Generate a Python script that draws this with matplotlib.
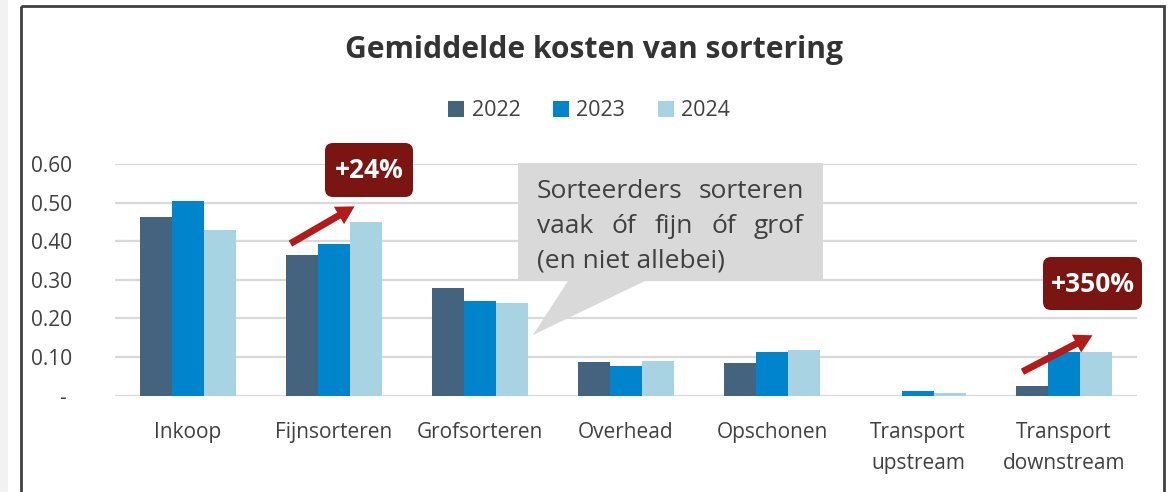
import matplotlib
matplotlib.use("Agg")
import matplotlib.pyplot as plt
import matplotlib.transforms as mtransforms
from matplotlib.patches import Rectangle, Polygon, FancyBboxPatch, FancyArrowPatch
from matplotlib.patches import Patch
import numpy as np

plt.rcParams['font.family'] = ['Open Sans', 'DejaVu Sans']

# ---- data ----
categories = ["Inkoop", "Fijnsorteren", "Grofsorteren", "Overhead", "Opschonen",
              "Transport\nupstream", "Transport\ndownstream"]
years = ["2022", "2023", "2024"]
v2022 = [0.463, 0.365, 0.279, 0.088, 0.085, 0.000, 0.025]
v2023 = [0.504, 0.393, 0.246, 0.078, 0.112, 0.011, 0.112]
v2024 = [0.429, 0.450, 0.240, 0.089, 0.118, 0.007, 0.112]
yticks = [0.0, 0.1, 0.2, 0.3, 0.4, 0.5, 0.6]
ytick_labels = ["- ", "0.10", "0.20", "0.30", "0.40", "0.50", "0.60"]
title = "Gemiddelde kosten van sortering"
callout_lines = ["Sorteerders sorteren", "vaak óf fijn óf grof", "(en niet allebei)"]
badge1 = "+24%"
badge2 = "+350%"

colors = ["#44637E", "#0085CC", "#A7D3E3"]
text_col = "#404040"

W, H = 1174, 492
fig = plt.figure(figsize=(W / 100, H / 100), dpi=100)
pix = mtransforms.Affine2D().scale(1 / W, -1 / H).translate(0, 1) + fig.transFigure

# background decorations
fig.patches.append(Rectangle((0, 0), 8, 492, transform=pix, fc="#F2F2F2", ec="none", zorder=0))
fig.patches.append(Rectangle((21, 6), 1143, 500, transform=pix, fc="none", ec="#404040", lw=2, zorder=0))

ax = fig.add_axes([115 / W, (H - 395.7) / H, (1137 - 115) / W, (395.7 - 164) / H])
x = np.arange(len(categories))
bw = 0.221
for i, (vals, c, lab) in enumerate(zip([v2022, v2023, v2024], colors, years)):
    ax.bar(x + (i - 1) * bw, vals, width=bw, color=c, label=lab, zorder=3)

ax.set_xlim(-0.5, len(categories) - 0.5)
ax.set_ylim(0, 0.6)
ax.set_yticks(yticks)
ax.set_yticklabels(ytick_labels)
ax.set_xticks(x)
ax.set_xticklabels(categories, linespacing=1.6)
for s in ax.spines.values():
    s.set_visible(False)
ax.grid(axis="y", color="#D9D9D9", lw=1.6, zorder=0)
ax.set_axisbelow(True)
ax.tick_params(axis="both", length=0, labelsize=15, colors=text_col)
ax.tick_params(axis="y", pad=31)
ax.tick_params(axis="x", pad=19)
for t in ax.get_xticklabels() + ax.get_yticklabels():
    t.set_color(text_col)

# title
fig.text(594 / W, 1 - 50 / H, title, ha="center", va="center", fontsize=21.6,
         fontweight="bold", color="#333333")

# legend
handles = [Patch(facecolor=c, edgecolor="none") for c in colors]
fig.legend(handles, years, loc="center", bbox_to_anchor=(589 / W, 1 - 111 / H), ncol=3,
           frameon=False, fontsize=15.5, handlelength=0.75, handleheight=0.75,
           handletextpad=0.35, columnspacing=1.5, labelcolor=text_col)

# callout bubble
bubble = [(518, 163), (823, 163), (823, 281), (645, 281), (533, 335), (568, 281), (518, 281)]
fig.patches.append(Polygon(bubble, closed=True, transform=pix, fc="#D9D9D9", ec="none", zorder=5))

fig.canvas.draw()
renderer = fig.canvas.get_renderer()
fs_call = 19
left_px, right_px = 537, 804
baselines = [198, 233, 268]
for li, (line, by) in enumerate(zip(callout_lines, baselines)):
    words = line.split(" ")
    if li < len(callout_lines) - 1 and len(words) > 1:
        tmp = [fig.text(0, 0, w, fontsize=fs_call) for w in words]
        widths = [t.get_window_extent(renderer).width for t in tmp]
        for t in tmp:
            t.remove()
        gap = (right_px - left_px - sum(widths)) / (len(words) - 1)
        xp = left_px
        for w, wd in zip(words, widths):
            fig.text(xp / W, 1 - by / H, w, fontsize=fs_call, color=text_col,
                     va="baseline", ha="left", zorder=6)
            xp += wd + gap
    else:
        fig.text(left_px / W, 1 - by / H, line, fontsize=fs_call, color=text_col,
                 va="baseline", ha="left", zorder=6)

# badges
for (x0, y0, x1, y1), txt in [((325, 143, 413, 197), badge1), ((1043, 257, 1142, 310), badge2)]:
    fig.patches.append(FancyBboxPatch((x0, y0), x1 - x0, y1 - y0, transform=pix,
                                      boxstyle="round,pad=0,rounding_size=8",
                                      fc="#7B1511", ec="none", zorder=6))
    fig.text((x0 + x1) / 2 / W, 1 - (y0 + y1 + 1) / 2 / H, txt, ha="center", va="center",
             fontsize=19, fontweight="bold", color="white", zorder=7)

# arrows
for (xa, ya), (xb, yb) in [((288, 245), (357, 205)), ((1020, 373), (1095, 334))]:
    fig.patches.append(FancyArrowPatch((xa, ya), (xb, yb), transform=pix,
                                       arrowstyle="simple,head_length=1.3,head_width=1.45,tail_width=0.5",
                                       mutation_scale=10, fc="#B31B1B", ec="none", zorder=6))

fig.savefig("out.png", dpi=100)
